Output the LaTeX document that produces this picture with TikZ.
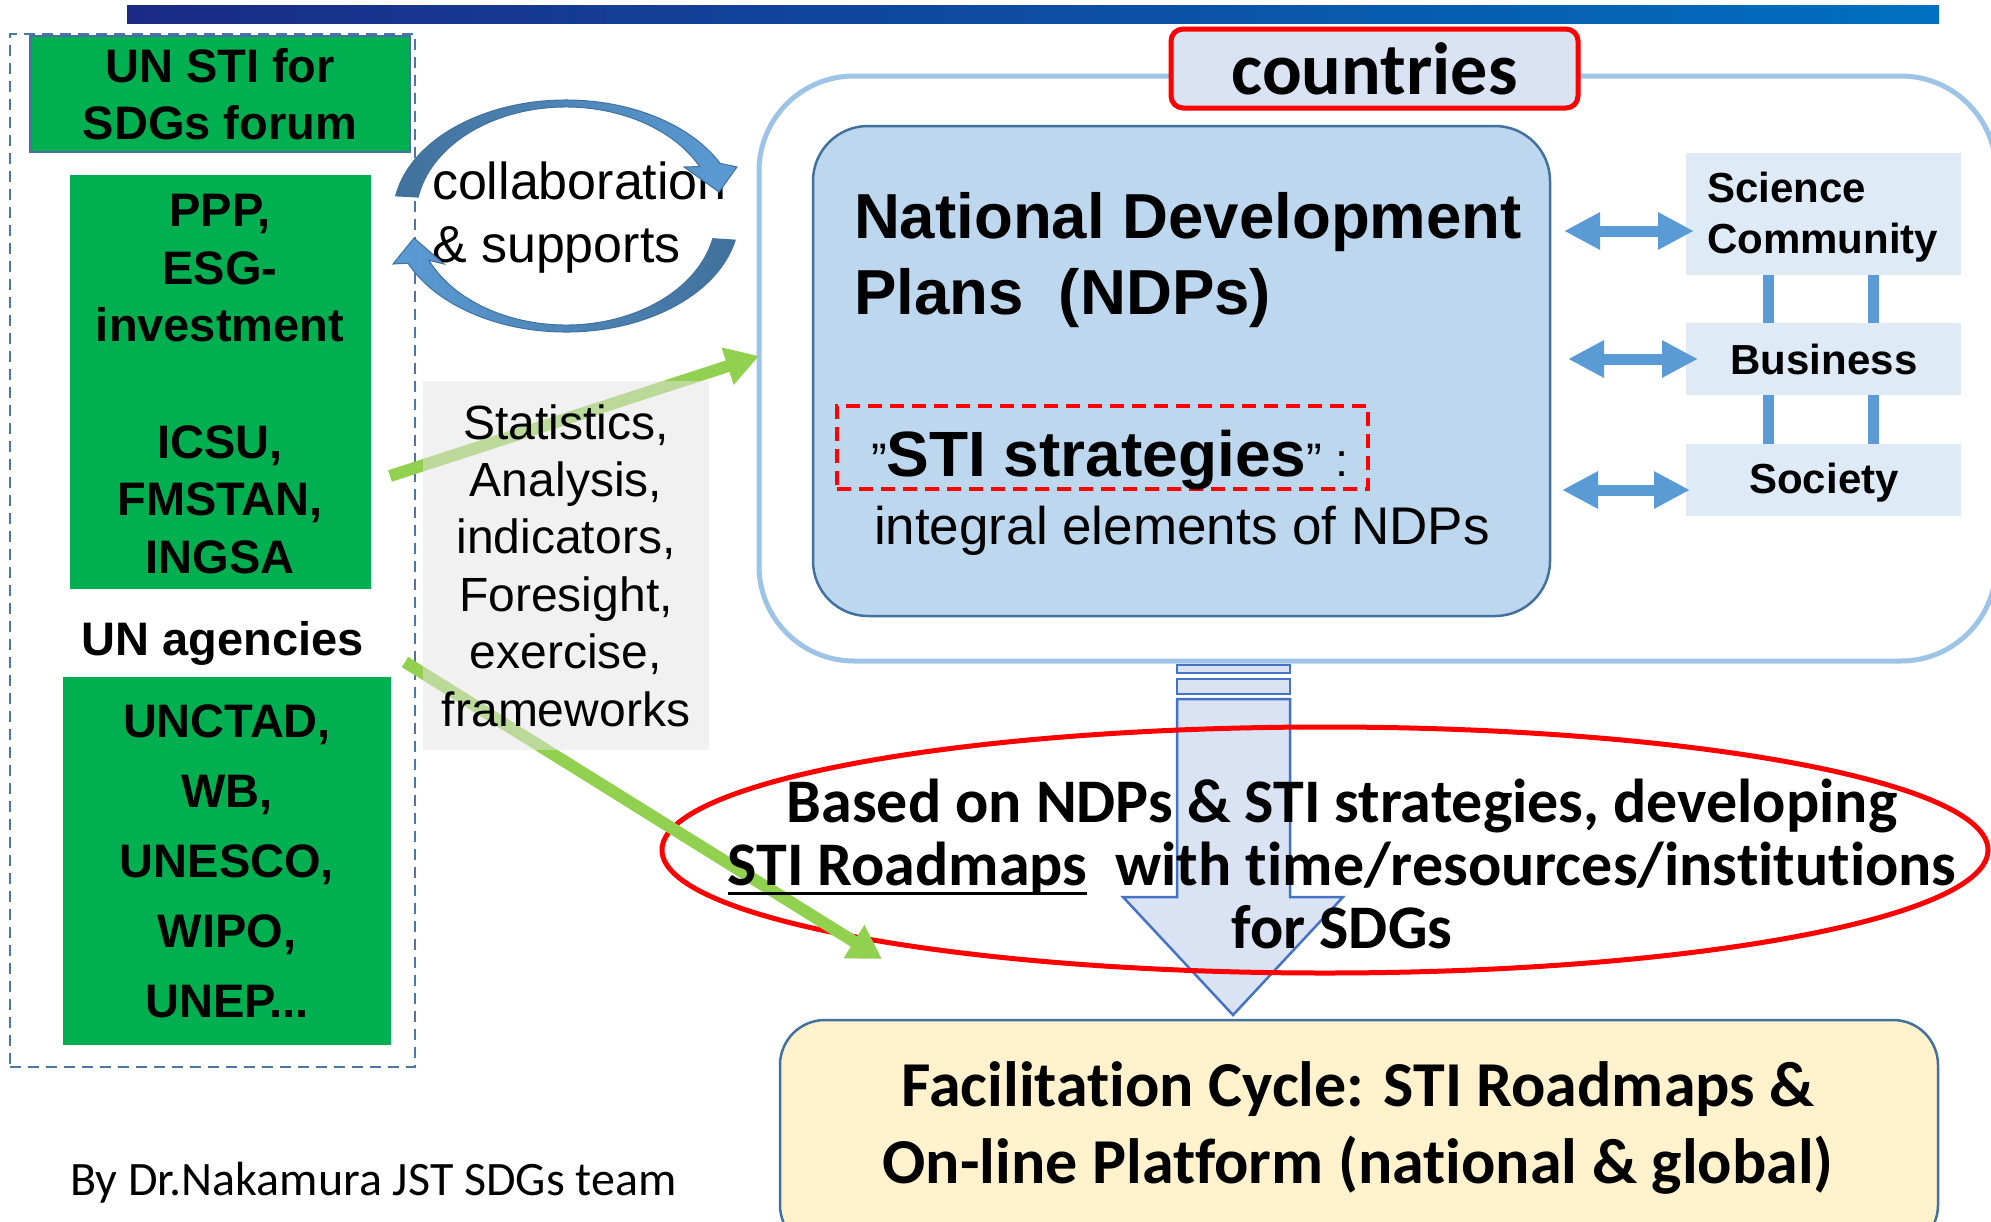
\documentclass[tikz,border=0pt]{standalone}
\usepackage{fontspec}
\setmainfont{Liberation Sans}
\newfontfamily\calibrifont[Ligatures=NoCommon]{Carlito}
\usetikzlibrary{arrows.meta,calc,shapes.geometric}
\newcommand\fsz[2]{\fontsize{#1}{#2}\selectfont}
% underline with a visible rule
\newcommand\ulbar[1]{\leavevmode\setbox0\hbox{#1}\rlap{\rule[-9pt]{\wd0}{3pt}}\box0}

\definecolor{barL}{HTML}{1B2A85}
\definecolor{barR}{HTML}{0070C0}
\definecolor{unGreen}{HTML}{00B050}
\definecolor{forumEdge}{HTML}{4A6FA8}
\definecolor{dashBlue}{HTML}{4A76A8}
\definecolor{frameBlue}{HTML}{9DC3E6}
\definecolor{ndpFill}{HTML}{BDD7EE}
\definecolor{ndpLine}{HTML}{41719C}
\definecolor{paleBlue}{HTML}{DEEBF7}
\definecolor{linkBlue}{HTML}{5B9BD5}
\definecolor{labelFill}{HTML}{DAE3F3}
\definecolor{arrowLine}{HTML}{4472C4}
\definecolor{leafGreen}{HTML}{92D050}
\definecolor{cycleFill}{HTML}{FFF2CC}
\definecolor{grayNote}{HTML}{E4E4E4}
\definecolor{ringDark}{HTML}{41719C}
\definecolor{ringLight}{HTML}{5B9BD5}

\begin{document}
\begin{tikzpicture}[x=1pt,y=-1pt,
  every node/.style={inner sep=0pt,outer sep=0pt},
  orgbox/.style={fill=unGreen},
  orgtext/.style={font=\fsz{47}{57.5}\bfseries, align=center},
  sidebox/.style={fill=paleBlue, minimum width=275pt},
  sidetext/.style={font=\fsz{42}{51}\bfseries},
  duplex/.style={draw=linkBlue, line width=11pt,
    {Triangle[length=36pt,width=35pt]}-{Triangle[length=36pt,width=35pt]}},
  tie/.style={draw=linkBlue, line width=11pt},
  feed/.style={draw=leafGreen, line width=12pt, -{Triangle[length=33pt,width=37pt]}},
  stage/.style={fill=labelFill, draw=arrowLine, line width=2.5pt},
  ring/.style={draw=ringDark, line width=1pt},
]
\useasboundingbox (0,0) rectangle (1991,1221);
\clip (0,0) rectangle (1991,1221);

% title bar
\shade[left color=barL, right color=barR] (127,5) rectangle (1939,23);

% ---- left panel: international actors ----
\node[draw=dashBlue, line width=2.5pt, dash pattern=on 11pt off 7pt,
      minimum width=405pt, minimum height=1033pt] (panel) at (212.5,550.5) {};
\node[orgbox, draw=forumEdge, line width=2.5pt, minimum width=380pt, minimum height=116pt,
      orgtext] (forum) at (220,94) {UN STI for\\SDGs forum};
\node[orgbox, minimum width=301pt, minimum height=414pt] (partners) at (220.5,382) {};
\node[orgtext] (ppp) at (220,268.5) {PPP,\\ESG-\\investment};
\node[orgtext] (icsu) at (220,499.5) {ICSU,\\FMSTAN,\\INGSA};
\node[orgtext] (unag) at (223,643) {UN agencies};
\node[orgbox, minimum width=328pt, minimum height=368pt, orgtext, font=\fsz{47}{70}\bfseries]
      (agencies) at (227,861) {UNCTAD,\\WB,\\UNESCO,\\WIPO,\\UNEP...};

\node[anchor=base west, font=\calibrifont\fsz{48}{56}] (credit) at (70,1195)
      {By Dr.Nakamura JST SDGs team};

% ---- collaboration ring ----
\node[anchor=west, align=left, font=\fsz{52}{63}] (collab) at (432,218)
      {collaboration\\\& supports};
\coordinate (ringc) at (566,216);
\path[ring, left color=ringDark, right color=ringLight]
  ($(ringc)+(190:173 and 116)$) arc[start angle=190, end angle=333, x radius=173, y radius=116]
  -- (737,167) -- (719,192) -- (684,167)
  -- ($(ringc)+(333:150 and 109)$) arc[start angle=333, end angle=190, x radius=150, y radius=109]
  -- cycle;
\path[ring, left color=ringLight, right color=ringDark]
  ($(ringc)+(12:173 and 116)$) arc[start angle=12, end angle=156, x radius=173, y radius=116]
  -- (393,264) -- (414,238) -- (444,264)
  -- ($(ringc)+(156:150 and 109)$) arc[start angle=156, end angle=12, x radius=150, y radius=109]
  -- cycle;

% ---- countries frame ----
\node[draw=frameBlue, line width=5pt, rounded corners=95pt,
      minimum width=1237pt, minimum height=585pt] (countries) at (1377.5,368.5) {};
\node[fill=labelFill, draw=red, line width=5pt, rounded corners=12pt,
      minimum width=407pt, minimum height=79pt, font=\calibrifont\fsz{74}{80}\bfseries]
      (ctag) at (1374.5,68.5) {countries};

\node[fill=ndpFill, draw=ndpLine, line width=2.5pt, rounded corners=55pt,
      minimum width=737pt, minimum height=490pt] (ndp) at (1181.5,371) {};
\node[anchor=west, align=left, font=\fsz{63.6}{76}\bfseries] (ndptitle) at (854,260.5)
      {National Development\\Plans\ \ (NDPs)};
\node[draw=red, line width=4pt, dash pattern=on 14pt off 8pt,
      minimum width=531pt, minimum height=83pt] (stibox) at (1102.5,447.5) {};
\node[anchor=base west] (stitxt) at (871,476)
      {\fsz{47}{50}”{\fsz{64}{70}\bfseries STI strategies}” :};
\node[anchor=base west, font=\fsz{53}{60}] (integral) at (874,544) {integral elements of NDPs};

% stakeholders
\node[sidebox, minimum height=122pt] (sci) at (1823.5,214) {};
\node[sidetext, anchor=west, align=left] (scitxt) at (1707,217.6) {Science\\Community};
\node[sidebox, minimum height=72pt] (biz) at (1823.5,359) {};
\node[sidetext] (biztxt) at (1824,359) {Business};
\node[sidebox, minimum height=72pt] (soc) at (1823.5,480) {};
\node[sidetext] (soctxt) at (1824,483) {Society};

\draw[tie] ([xshift=-55.5pt]sci.south) -- ([xshift=-55.5pt]biz.north);
\draw[tie] ([xshift=49.5pt]sci.south) -- ([xshift=49.5pt]biz.north);
\draw[tie] ([xshift=-55.5pt]biz.south) -- ([xshift=-55.5pt]soc.north);
\draw[tie] ([xshift=49.5pt]biz.south) -- ([xshift=49.5pt]soc.north);

\coordinate (d1a) at (1564,231); \coordinate (d1b) at (1694,231);
\coordinate (d2a) at (1568,359); \coordinate (d2b) at (1698,359);
\coordinate (d3a) at (1562,490); \coordinate (d3b) at (1690,490);
\draw[duplex] (d1a) -- (d1b);
\draw[duplex] (d2a) -- (d2b);
\draw[duplex] (d3a) -- (d3b);

% ---- down arrow to the roadmap ----
\draw[stage] (1177,665) rectangle (1290,673);
\draw[stage] (1177,679) rectangle (1290,694);
\draw[stage] (1177,699) -- (1290,699) -- (1290,897) -- (1343,897) -- (1233,1015)
      -- (1123,897) -- (1177,897) -- cycle;

\node[ellipse, draw=red, line width=5pt, minimum width=1326pt, minimum height=246pt]
      (roadmap) at (1325,850) {};

% ---- support flows ----
\coordinate (f1s) at (390,476); \coordinate (f1e) at (759,356);
\coordinate (f2s) at (405,662); \coordinate (f2e) at (882,959);
\draw[feed] (f1s) -- (f1e);
\draw[feed] (f2s) -- (f2e);

\node[fill=grayNote, fill opacity=0.5, text opacity=1, minimum width=286pt, minimum height=369pt,
      align=center, font=\fsz{48}{57.4}] (methods) at (566,565.5)
      {Statistics,\\Analysis,\\indicators,\\Foresight,\\exercise,\\frameworks};

\node[align=center, font=\calibrifont\fsz{62}{63}\bfseries] (roadtxt) at (1342,864)
      {Based on NDPs \& STI strategies, developing\\\ulbar{STI Roadmaps}\ \ with time/resources/institutions\\for SDGs};

% ---- facilitation cycle ----
\node[fill=cycleFill, draw=ndpLine, line width=2.5pt, rounded corners=45pt,
      minimum width=1158pt, minimum height=230pt] (cycle) at (1359,1135) {};
\node[align=center, font=\calibrifont\fsz{64}{77}\bfseries] (cycletxt) at (1358,1128)
      {Facilitation Cycle: STI Roadmaps \&\\On-line Platform (national \& global)};
\end{tikzpicture}
\end{document}
